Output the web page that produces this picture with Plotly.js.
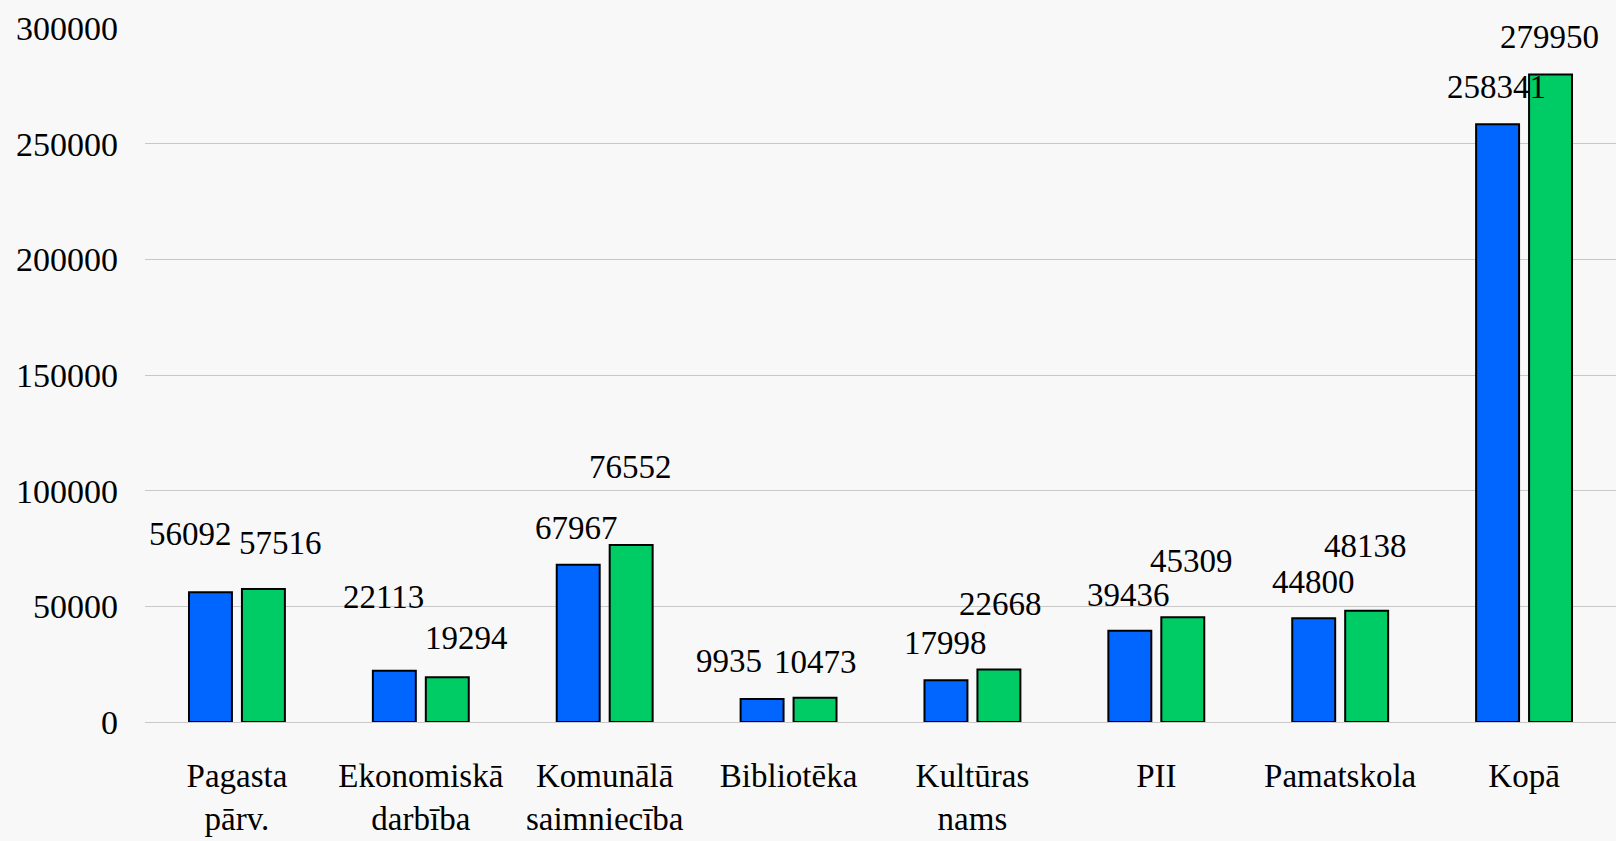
<!DOCTYPE html>
<html>
<head>
<meta charset="utf-8">
<script src="https://cdn.plot.ly/plotly-3.0.1.min.js"></script>
<style>
html,body{margin:0;padding:0;background:#f8f8f8;}
#chart{width:1616px;height:841px;}
</style>
</head>
<body>
<div id="chart"></div>
<script>
// ---- data ----
const categories = ["Pagasta<br>pārv.", "Ekonomiskā<br>darbība", "Komunālā<br>saimniecība", "Bibliotēka", "Kultūras<br>nams", "PII", "Pamatskola", "Kopā"];
const seriesA = [56092, 22113, 67967, 9935, 17998, 39436, 44800, 258341];
const seriesB = [57516, 19294, 76552, 10473, 22668, 45309, 48138, 279950];
const yTickValues = [0, 50000, 100000, 150000, 200000, 250000, 300000];

// ---- label placement style (pixel offsets from bar top centre) ----
const offA = {dx: [-20, -10.5, -2, -33, 0, -1.5, 0, -1], dy: [58, 74, 36.5, 38.5, 37, 35.5, 36.5, 37]};
const offB = {dx: [17.5, 19.5, -1, 0, 1.5, 8.5, -1.5, -1], dy: [46, 39, 77.5, 36, 65.5, 56, 65, 37]};
const barShift = 26.5;
const colorA = "#0066ff";
const colorB = "#00cc66";
const fontFamily = "Liberation Serif";

const traces = [
  {type: "bar", x: categories, y: seriesA, marker: {color: colorA, line: {color: "#000", width: 2}}, hoverinfo: "y"},
  {type: "bar", x: categories, y: seriesB, marker: {color: colorB, line: {color: "#000", width: 2}}, hoverinfo: "y"}
];

const annotations = [];
categories.forEach((c, i) => {
  annotations.push({x: c, y: seriesA[i], text: String(seriesA[i]), showarrow: false,
    xanchor: "center", yanchor: "middle", xshift: -barShift + offA.dx[i], yshift: offA.dy[i],
    font: {family: fontFamily, size: 33, color: "#000"}});
  annotations.push({x: c, y: seriesB[i], text: String(seriesB[i]), showarrow: false,
    xanchor: "center", yanchor: "middle", xshift: barShift + offB.dx[i], yshift: offB.dy[i],
    font: {family: fontFamily, size: 33, color: "#000"}});
});

const layout = {
  width: 1616, height: 841,
  margin: {l: 145, r: 0, t: 28, b: 119},
  paper_bgcolor: "#f8f8f8", plot_bgcolor: "#f8f8f8",
  showlegend: false,
  barmode: "group", bargap: 0.424, bargroupgap: 0.189,
  font: {family: fontFamily, size: 32, color: "#000"},
  xaxis: {type: "category", showgrid: false, showline: false, zeroline: false, ticks: "",
    tickfont: {family: fontFamily, size: 33, color: "#000"}, ticklabelstandoff: 31},
  yaxis: {range: [0, 300000], tickvals: yTickValues, ticktext: yTickValues.map(String),
    showgrid: true, gridcolor: "#c8c8c8", gridwidth: 1, zeroline: true, zerolinecolor: "#c8c8c8", zerolinewidth: 1,
    showline: false, ticks: "", tickfont: {family: fontFamily, size: 34, color: "#000"}, ticklabelstandoff: 26},
  annotations: annotations
};

Plotly.newPlot("chart", traces, layout, {displayModeBar: false, staticPlot: true});
</script>
</body>
</html>
